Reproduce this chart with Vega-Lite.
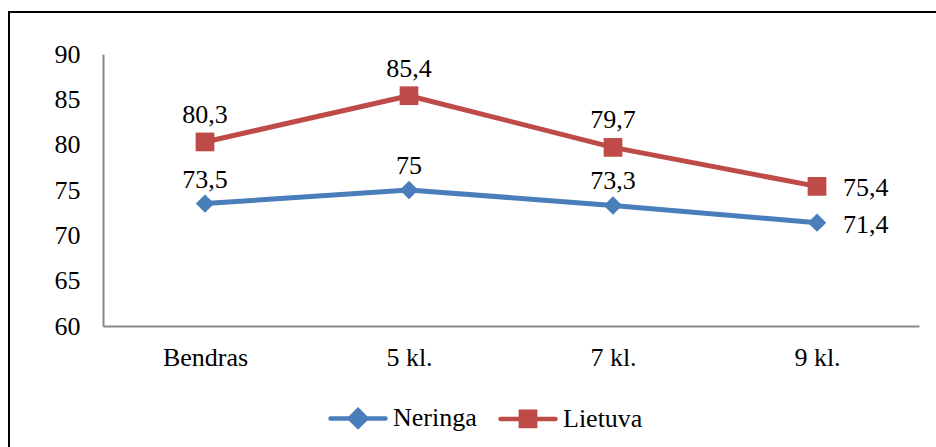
{
  "$schema": "https://vega.github.io/schema/vega-lite/v6.json",
  "width": 816,
  "height": 272,
  "autosize": {"type": "none"},
  "padding": {"left": 103, "top": 54, "right": 17, "bottom": 121},
  "background": "white",
  "config": {
    "view": {"stroke": null},
    "font": "Liberation Serif",
    "locale": {"number": {"decimal": ",", "thousands": " ", "grouping": [3], "currency": ["", " €"]}},
    "axis": {"labelFont": "Liberation Serif", "labelFontSize": 26, "labelColor": "#000000", "domainColor": "#888888", "domainWidth": 2, "ticks": false, "grid": false, "title": null}
  },
  "data": {
    "values": [
      {"klase": "Bendras", "serija": "Neringa", "reiksme": 73.5},
      {"klase": "5 kl.", "serija": "Neringa", "reiksme": 75},
      {"klase": "7 kl.", "serija": "Neringa", "reiksme": 73.3},
      {"klase": "9 kl.", "serija": "Neringa", "reiksme": 71.4},
      {"klase": "Bendras", "serija": "Lietuva", "reiksme": 80.3},
      {"klase": "5 kl.", "serija": "Lietuva", "reiksme": 85.4},
      {"klase": "7 kl.", "serija": "Lietuva", "reiksme": 79.7},
      {"klase": "9 kl.", "serija": "Lietuva", "reiksme": 75.4}
    ]
  },
  "encoding": {
    "x": {"field": "klase", "type": "nominal", "sort": ["Bendras", "5 kl.", "7 kl.", "9 kl."],
      "scale": {"paddingInner": 0, "paddingOuter": 0},
      "axis": {"labelAngle": 0, "labelPadding": 18}},
    "y": {"field": "reiksme", "type": "quantitative", "scale": {"domain": [60, 90], "nice": false, "zero": false},
      "axis": {"values": [60, 65, 70, 75, 80, 85, 90], "labelPadding": 23}}
  },
  "layer": [
    {
      "mark": {"type": "line", "strokeWidth": 5, "strokeCap": "round", "strokeJoin": "round"},
      "encoding": {
        "color": {"field": "serija", "type": "nominal", "sort": ["Neringa", "Lietuva"],
          "scale": {"domain": ["Neringa", "Lietuva"], "range": ["#4A7EBB", "#BE4B48"]},
          "legend": {
            "orient": "none", "legendX": 225, "legendY": 334, "direction": "horizontal",
            "title": null, "labelFont": "Liberation Serif", "labelFontSize": 26, "labelColor": "#000000",
            "labelOffset": 5, "columnPadding": 14, "symbolSize": 3025, "symbolStrokeWidth": 4,
            "encode": {
              "symbols": {"update": {
                "shape": {"signal": "datum.value === 'Neringa' ? 'M-1,0L1,0M0,-0.3L0.3,0L0,0.3L-0.3,0Z' : 'M-1,0L1,0M-0.26,-0.26L0.26,-0.26L0.26,0.26L-0.26,0.26Z'"},
                "fill": {"signal": "scale('color', datum.value)"},
                "stroke": {"signal": "scale('color', datum.value)"},
                "strokeCap": {"value": "round"},
                "strokeWidth": {"value": 4.5},
                "opacity": {"value": 1},
                "strokeOpacity": {"value": 1},
                "fillOpacity": {"value": 1}
              }}
            }
          }}
      }
    },
    {
      "transform": [{"filter": "datum.serija === 'Neringa'"}],
      "mark": {"type": "point", "filled": true, "opacity": 1, "shape": "diamond", "size": 340, "color": "#4A7EBB"}
    },
    {
      "transform": [{"filter": "datum.serija === 'Lietuva'"}],
      "mark": {"type": "point", "filled": true, "opacity": 1, "shape": "square", "size": 350, "color": "#BE4B48"}
    },
    {
      "transform": [{"filter": "datum.serija === 'Lietuva' && datum.klase !== '9 kl.'"}],
      "mark": {"type": "text", "fontSize": 26, "font": "Liberation Serif", "color": "#000000", "baseline": "alphabetic", "dy": -19},
      "encoding": {"text": {"field": "reiksme", "type": "quantitative", "format": ".1~f"}}
    },
    {
      "transform": [{"filter": "datum.serija === 'Neringa' && datum.klase !== '9 kl.'"}],
      "mark": {"type": "text", "fontSize": 26, "font": "Liberation Serif", "color": "#000000", "baseline": "alphabetic", "dy": -16},
      "encoding": {"text": {"field": "reiksme", "type": "quantitative", "format": ".1~f"}}
    },
    {
      "transform": [{"filter": "datum.klase === '9 kl.'"}],
      "mark": {"type": "text", "fontSize": 26, "font": "Liberation Serif", "color": "#000000", "baseline": "middle", "align": "left", "dx": 26, "dy": 2},
      "encoding": {"text": {"field": "reiksme", "type": "quantitative", "format": ".1~f"}}
    },
    {
      "data": {"values": [{"remelis": "diagramos rėmelis"}]},
      "mark": {"type": "rect", "fill": null, "stroke": "#000000", "strokeWidth": 2},
      "encoding": {
        "x": {"value": -94},
        "y": {"value": -42},
        "x2": {"value": 900},
        "y2": {"value": 500}
      }
    }
  ]
}
